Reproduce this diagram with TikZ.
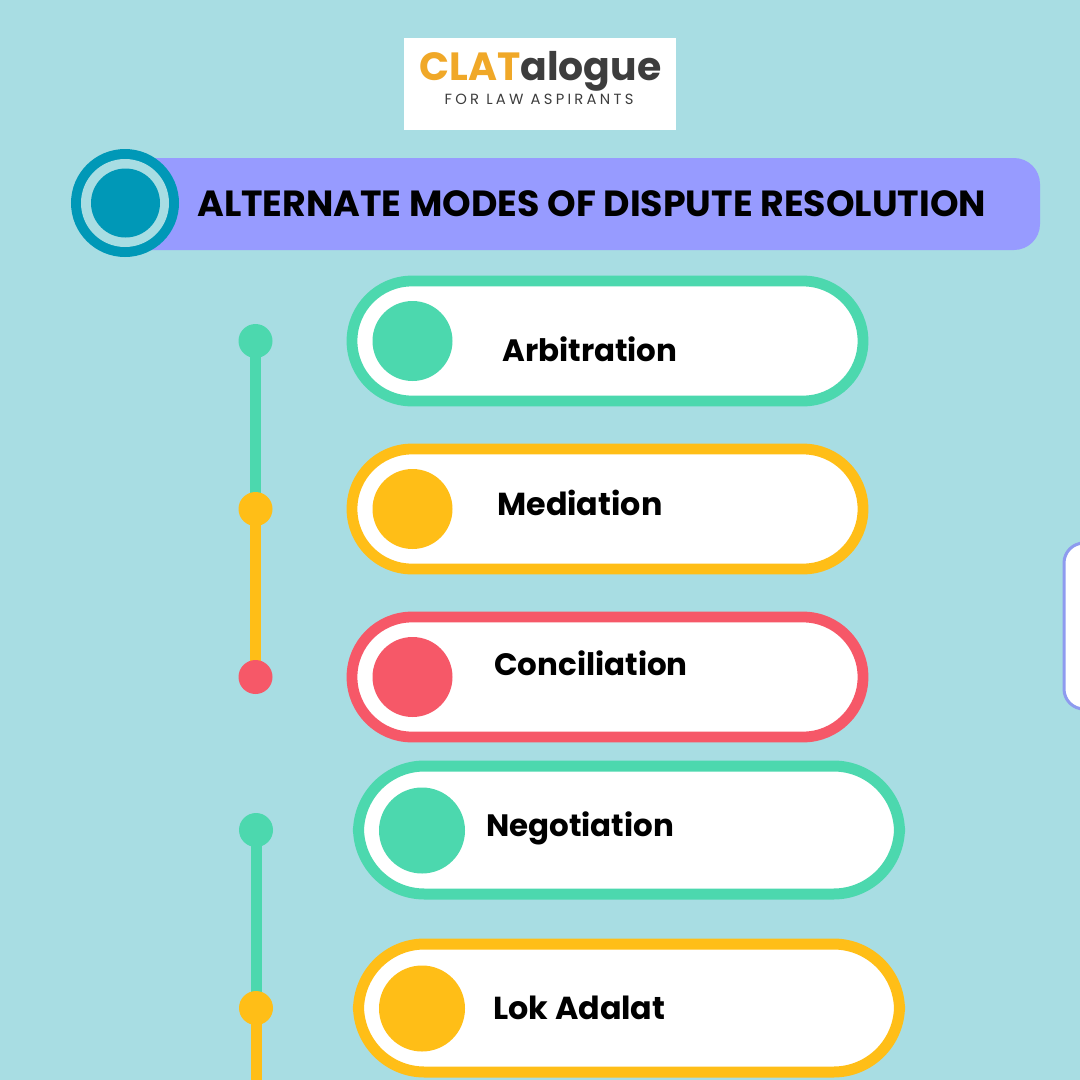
\documentclass[tikz,border=0pt]{standalone}
\usepackage{fontspec}
\setmainfont{Poppins}
\definecolor{bgc}{HTML}{A8DDE3}
\definecolor{barc}{HTML}{979BFF}
\definecolor{tealc}{HTML}{0098B7}
\definecolor{greenc}{HTML}{4CD8AE}
\definecolor{yellowc}{HTML}{FFBE17}
\definecolor{redc}{HTML}{F65868}
\definecolor{boxline}{HTML}{8E9BEF}
\definecolor{logoor}{HTML}{F0A828}
\definecolor{logogr}{HTML}{3D3D3D}
\tikzset{
  x=0.25mm,y=-0.25mm,
  pill/.style={draw=#1,fill=white,line width=2.7mm,rounded corners=15mm,minimum width=127.75mm,minimum height=30mm,inner sep=0pt},
  pillb/.style={draw=#1,fill=white,line width=2.75mm,rounded corners=16.5mm,minimum width=135.25mm,minimum height=32mm,inner sep=0pt},
  disc/.style={circle,fill=#1,draw=none,minimum size=20mm,inner sep=0pt},
  discb/.style={circle,fill=#1,draw=none,minimum size=21.5mm,inner sep=0pt},
  dot/.style={circle,fill=#1,draw=none,minimum size=8.5mm,inner sep=0pt},
  stem/.style={draw=#1,line width=2.75mm},
  lab/.style={anchor=base west,inner sep=0pt,font=\fontsize{22pt}{26pt}\selectfont\bfseries,text=black},
  labw/.style={anchor=base west,inner sep=0pt,font=\fontsize{22.6pt}{26pt}\selectfont\bfseries,text=black},
}
\begin{document}
\begin{tikzpicture}
\useasboundingbox (0,0) rectangle (1080,1080);
\fill[bgc] (0,0) rectangle (1080,1080);
% logo
\node[fill=white,minimum width=68mm,minimum height=23mm,inner sep=0pt] (logo) at (540,84) {};
\node[anchor=base west,inner sep=0pt,font=\fontsize{28pt}{32pt}\selectfont\bfseries] (logotxt) at (419,80) {\textcolor{logoor}{CLAT}\textcolor{logogr}{alogue}};
\node[anchor=base,inner sep=0pt,font=\fontsize{10.5pt}{12pt}\selectfont,text=logogr] (logosub) at (539,104) {\addfontfeature{LetterSpace=22}FOR LAW ASPIRANTS};
% title bar
\node[fill=barc,rounded corners=6.5mm,minimum width=228.75mm,minimum height=23mm,inner sep=0pt] (bar) at (582.5,204) {};
\node[circle,fill=tealc,minimum size=27mm,inner sep=0pt] (c1) at (125,203) {};
\node[circle,fill=bgc,minimum size=22mm,inner sep=0pt] (c2) at (125,203) {};
\node[circle,fill=tealc,minimum size=17.25mm,inner sep=0pt] (c3) at (125.5,203) {};
\node[anchor=base west,inner sep=0pt,font=\fontsize{25.87pt}{30pt}\selectfont\bfseries,text=black] (title) at (197,216) {ALTERNATE MODES OF DISPUTE RESOLUTION};
% side box
\node[draw=boxline,fill=white,line width=0.75mm,rounded corners=5mm,minimum width=40mm,minimum height=41.5mm,inner sep=0pt,anchor=north west] (side) at (1062.5,541.5) {};
% pills
\node[pill=greenc] (p1) at (607.5,341) {};
\node[pill=yellowc] (p2) at (607.5,509) {};
\node[pill=redc] (p3) at (607.5,677) {};
\node[pillb=greenc] (p4) at (629,830) {};
\node[pillb=yellowc] (p5) at (629,1008) {};
\node[disc=greenc] (d1) at (412.5,341) {};
\node[disc=yellowc] (d2) at (412.5,509) {};
\node[disc=redc] (d3) at (412.5,677) {};
\node[discb=greenc] (d4) at (422,830.5) {};
\node[discb=yellowc] (d5) at (422,1008.5) {};
\node[lab] (l1) at (502,361) {Arbitration};
\node[labw] (l2) at (497,515) {Mediation};
\node[lab] (l3) at (494,675) {Conciliation};
\node[lab] (l4) at (486,836) {Negotiation};
\node[labw] (l5) at (493,1019) {Lok Adalat};
% timelines
\coordinate (t1) at (255.5,341);
\coordinate (t2) at (255.5,509);
\coordinate (t3) at (255.5,677);
\coordinate (t4) at (256,830);
\coordinate (t5) at (256,1008);
\coordinate (t6) at (256,1080);
\draw[stem=greenc] (t1) -- (t2);
\draw[stem=yellowc] (t2) -- (t3);
\draw[stem=greenc] (t4) -- (t5);
\draw[stem=yellowc] (t5) -- (t6);
\node[dot=greenc] at (t1) {};
\node[dot=yellowc] at (t2) {};
\node[dot=redc] at (t3) {};
\node[dot=greenc] at (t4) {};
\node[dot=yellowc] at (t5) {};
\end{tikzpicture}
\end{document}
